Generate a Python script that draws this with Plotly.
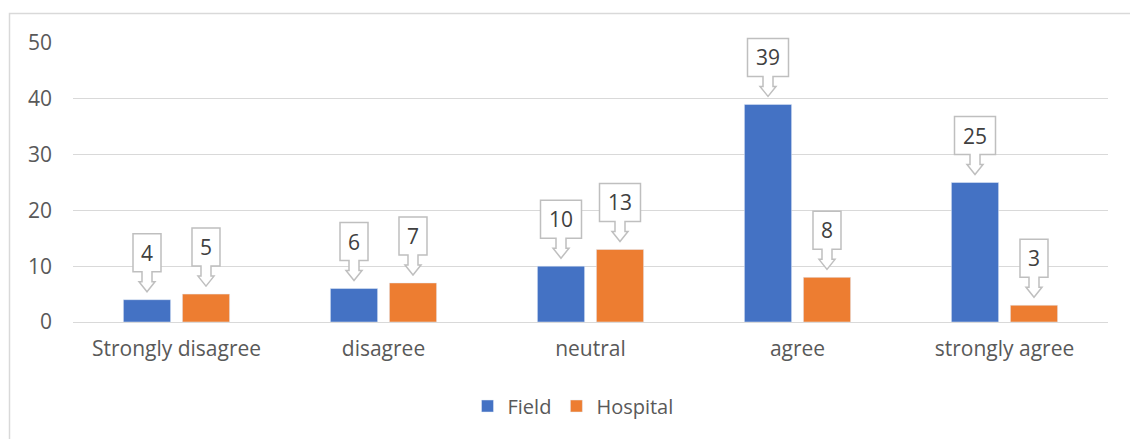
import plotly.graph_objects as go

# Survey responses by setting
categories = ["Strongly disagree", "disagree", "neutral", "agree", "strongly agree"]
field = [4, 6, 10, 39, 25]
hospital = [5, 7, 13, 8, 3]
y_ticks = [0, 10, 20, 30, 40, 50]

BLUE = "#4472C4"
ORANGE = "#ED7D31"
TEXT = "#595959"
GRID = "#D9D9D9"
FONT = "Open Sans"
FS = 21

BARGAP = 0.43
BARGROUPGAP = 0.2
Y_MAX = 50

# plot-area geometry in pixels (used for the outer chart border)
W, H = 1130, 439
ML, MR, MT, MB = 73, 22, 43, 117
PW, PH = W - ML - MR, H - MT - MB

xs = list(range(len(categories)))
NCAT = len(categories)

fig = go.Figure()
fig.add_trace(go.Bar(name="Field", x=xs, y=field, marker_color=BLUE))
fig.add_trace(go.Bar(name="Hospital", x=xs, y=hospital, marker_color=ORANGE))


def callout(xc, value):
    """Outlined box with a hollow down-arrow pointing at the bar top."""
    n = len(str(value))
    hw = (15 + 13 * n) / 2
    path = (f"M{-hw},66 L{hw},66 L{hw},28 L5,28 L5,18 L8,18 L0,8 "
            f"L-8,18 L-5,18 L-5,28 L{-hw},28 Z")
    # domain references keep the callout from being clipped at the plot top
    fig.add_shape(type="path", path=path, xref="x domain", yref="y domain",
                  xsizemode="pixel", ysizemode="pixel",
                  xanchor=(xc + 0.5) / NCAT, yanchor=value / Y_MAX,
                  line=dict(color="#BFBFBF", width=1.5),
                  fillcolor="white", layer="above")
    fig.add_annotation(x=xc, y=value, xref="x", yref="y", text=str(value),
                       showarrow=False, yshift=47,
                       font=dict(family=FONT, size=FS, color="#404040"))


offset = (1 - BARGAP) / 4
for i in xs:
    callout(i - offset, field[i])
    callout(i + offset, hospital[i])

# outer chart border
fig.add_shape(type="rect", xref="paper", yref="paper",
              x0=(9.5 - ML) / PW, x1=(W + 10 - ML) / PW,
              y0=-(H + 10 - MT - PH) / PH, y1=1 + (MT - 13.5) / PH,
              line=dict(color=GRID, width=1.5), fillcolor="rgba(0,0,0,0)",
              layer="below")

fig.update_layout(
    width=W, height=H,
    margin=dict(l=ML, r=MR, t=MT, b=MB),
    paper_bgcolor="white", plot_bgcolor="white",
    barmode="group", bargap=BARGAP, bargroupgap=BARGROUPGAP,
    font=dict(family=FONT, size=FS, color=TEXT),
    showlegend=True,
    legend=dict(orientation="h", x=(573 - ML) / PW, xanchor="center",
                y=-(406 - MT - PH) / PH, yanchor="middle",
                font=dict(family=FONT, size=20, color=TEXT),
                itemwidth=30, traceorder="normal"),
    xaxis=dict(range=[-0.5, NCAT - 0.5], tickvals=xs,
               ticktext=categories, showgrid=False, zeroline=False,
               showline=False, ticks="", ticklabelstandoff=12,
               tickfont=dict(family=FONT, size=FS, color=TEXT)),
    yaxis=dict(range=[0, Y_MAX], tickvals=y_ticks, showgrid=True,
               gridcolor=GRID, gridwidth=1, zeroline=True,
               zerolinecolor=GRID, zerolinewidth=1, showline=False,
               ticks="", ticklabelstandoff=20,
               tickfont=dict(family=FONT, size=FS, color=TEXT)),
)

fig.write_html("out.html")
